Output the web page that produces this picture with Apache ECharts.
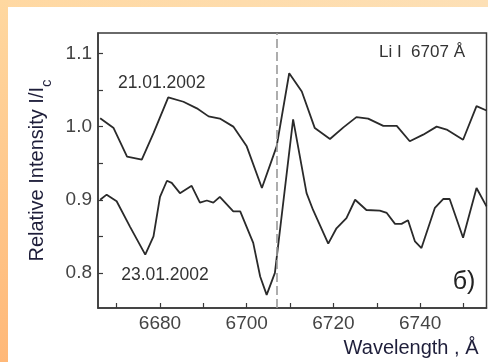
<!DOCTYPE html>
<html><head><meta charset="utf-8">
<script src="https://cdn.jsdelivr.net/npm/echarts@6/dist/echarts.min.js"></script>
<style>html,body{margin:0;padding:0;background:#fff}#c{width:488px;height:362px}</style>
</head><body><div id="c"></div>
<script>
const wl1 = [6666.2,6669.3,6672.4,6675.8,6678.5,6681.9,6685.4,6688.5,6691.2,6693.8,6696.9,6700.0,6703.5,6706.9,6709.8,6712.7,6715.7,6719.2,6722.3,6725.3,6728.0,6731.5,6734.6,6737.6,6740.7,6743.8,6746.1,6749.9,6753.0,6755.3];
const int1 = [1.0115,0.998,0.959,0.955,0.991,1.040,1.034,1.025,1.014,1.011,1.000,0.973,0.916,0.973,1.073,1.048,0.998,0.983,0.999,1.013,1.011,1.001,1.001,0.980,0.989,1.000,0.996,0.982,1.028,1.022];
const wl2 = [6666.2,6667.7,6670.0,6673.1,6676.6,6678.5,6680.0,6681.6,6682.7,6684.6,6687.3,6689.2,6690.8,6692.3,6693.8,6696.9,6698.5,6701.5,6703.1,6704.6,6706.5,6710.7,6713.8,6715.3,6718.8,6720.7,6723.0,6725.0,6727.6,6730.7,6732.3,6734.2,6735.7,6737.2,6738.8,6740.3,6743.4,6745.3,6746.8,6749.9,6753.0,6755.3];
const int2 = [0.900,0.907,0.898,0.863,0.825,0.850,0.904,0.926,0.923,0.909,0.919,0.896,0.899,0.896,0.904,0.884,0.884,0.841,0.795,0.770,0.800,1.010,0.909,0.886,0.840,0.861,0.875,0.900,0.886,0.885,0.882,0.867,0.867,0.872,0.843,0.834,0.889,0.901,0.901,0.848,0.916,0.891];
const xTicks = [6670,6680,6690,6700,6710,6720,6730,6740,6750];
const xLabels = [6680,6700,6720,6740];
const yTicks = [0.8,0.85,0.9,0.95,1.0,1.05,1.1];
const yLabels = [0.8,0.9,1.0,1.1];
const lineMark = 6707;
const label1 = '21.01.2002', label2 = '23.01.2002';

const chart = echarts.init(document.getElementById('c'), null, {renderer:'canvas'});
const axisCol = '#3a3a3a';
const ff = 'Liberation Sans, Arial';
chart.setOption({
  backgroundColor:'#fff',
  animation:false,
  grid:{left:98,top:33,right:1.5,bottom:54,show:true,borderColor:axisCol,borderWidth:1.5,containLabel:false},
  xAxis:{type:'value',min:6665.7,max:6755.3,
    axisLine:{show:true,lineStyle:{color:axisCol,width:1.5}},
    axisTick:{show:true,inside:true,length:5,customValues:xTicks,lineStyle:{color:axisCol,width:1.2}},
    axisLabel:{customValues:xLabels,margin:6,color:'#444',fontSize:19,fontFamily:ff,formatter:v=>String(v)},
    splitLine:{show:false},
    name:'Wavelength , Å',nameLocation:'end',nameGap:0,
    nameTextStyle:{color:'#1e1e3a',fontSize:20,fontFamily:ff,align:'right',verticalAlign:'top',padding:[30,8,0,0]}
  },
  yAxis:{type:'value',min:0.752,max:1.128,
    axisLine:{show:true,lineStyle:{color:axisCol,width:1.5}},
    axisTick:{show:true,inside:true,length:5,customValues:yTicks,lineStyle:{color:axisCol,width:1.2}},
    axisLabel:{customValues:yLabels,margin:6,color:'#444',fontSize:19,fontFamily:ff,formatter:v=>v.toFixed(1)},
    splitLine:{show:false},
    name:'Relative Intensity I/I{s|c}',nameLocation:'middle',nameGap:48,nameRotate:90,
    nameTextStyle:{color:'#1e1e3a',fontSize:20,fontFamily:ff,rich:{s:{fontSize:15,color:'#1e1e3a',verticalAlign:'bottom',padding:[0,0,-7,0]}}}
  },
  series:[
    {type:'line',data:wl1.map((x,i)=>[x,int1[i]]),showSymbol:false,lineStyle:{color:'#2a2a2a',width:1.8},
     markLine:{silent:true,symbol:'none',label:{show:false},lineStyle:{color:'#9a9a9a',type:[9,4],width:1.6},data:[{xAxis:lineMark}]}},
    {type:'line',data:wl2.map((x,i)=>[x,int2[i]]),showSymbol:false,lineStyle:{color:'#2a2a2a',width:1.8}}
  ],
  graphic:[
    {type:'rect',shape:{x:0,y:0,width:488,height:7},style:{fill:new echarts.graphic.LinearGradient(0,0,1,0,[{offset:0,color:'#ffd8a2'},{offset:1,color:'#fde0b6'}])},z:-1},
    {type:'rect',shape:{x:0,y:0,width:8,height:362},style:{fill:new echarts.graphic.LinearGradient(0,0,0,1,[{offset:0,color:'#ffd8a0'},{offset:1,color:'#ffb878'}])},z:-1},
    {type:'text',x:161.7,y:83.3,style:{text:label1,fill:'#333',fontSize:17.5,fontFamily:ff,align:'center',verticalAlign:'middle'}},
    {type:'text',x:165,y:275,style:{text:label2,fill:'#333',fontSize:17.5,fontFamily:ff,align:'center',verticalAlign:'middle'}},
    {type:'text',x:465,y:52,style:{text:'Li I  6707 Å',fill:'#333',fontSize:17,fontFamily:ff,align:'right',verticalAlign:'middle'}},
    {type:'text',x:464,y:282,style:{text:'б)',fill:'#222',fontSize:25,fontFamily:ff,align:'center',verticalAlign:'middle'}}
  ]
});
</script></body></html>
